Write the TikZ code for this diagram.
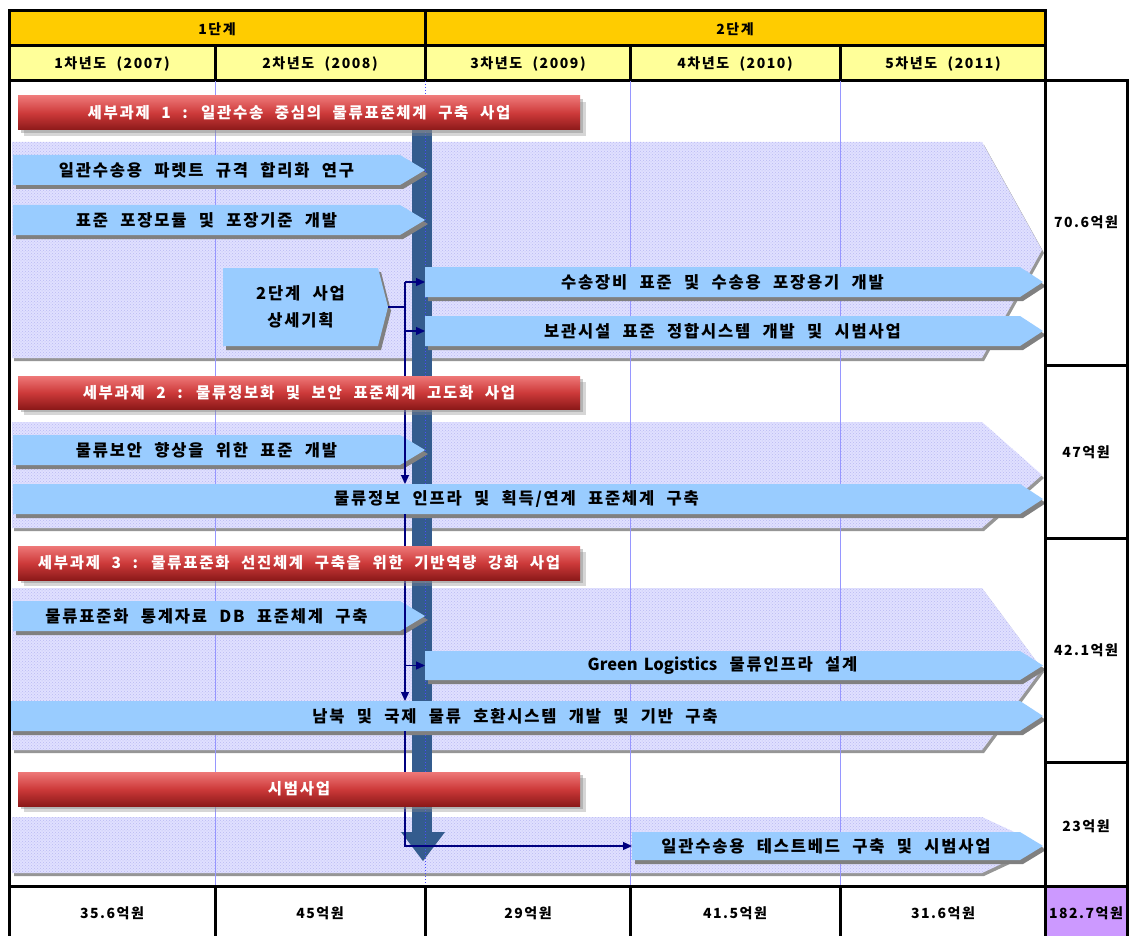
\documentclass[tikz,border=0pt]{standalone}
\usepackage{fontspec}
\setmainfont{Noto Sans CJK KR}[WordSpace=2.2,LetterSpace=11]
\newfontfamily\latinplain{Noto Sans CJK KR}[WordSpace=1.6]
\usetikzlibrary{patterns,arrows.meta}
\definecolor{hdrorange}{RGB}{255,204,0}
\definecolor{hdryellow}{RGB}{255,255,153}
\definecolor{lav}{RGB}{224,224,255}
\definecolor{lavdot}{RGB}{185,185,242}
\definecolor{bandshadow}{RGB}{150,150,150}
\definecolor{arrowblue}{RGB}{153,204,255}
\definecolor{arrowshadow}{RGB}{128,128,128}
\definecolor{barblue}{RGB}{52,92,142}
\definecolor{navyline}{RGB}{0,0,128}
\definecolor{gridblue}{RGB}{150,150,255}
\definecolor{purplecell}{RGB}{204,153,255}
\definecolor{redtop}{RGB}{238,120,120}
\definecolor{redmid}{RGB}{205,58,58}
\definecolor{redbot}{RGB}{140,25,25}
\tikzset{
  frame/.style={line width=3pt, black},
  atext/.style={font=\fontsize{16.5}{19}\selectfont\bfseries, text=black, inner sep=0pt, align=center},
  htext/.style={font=\fontsize{14}{17}\selectfont\bfseries, text=black, inner sep=0pt},
  rtext/.style={font=\fontsize{15.5}{18}\selectfont\bfseries, text=white, inner sep=0pt},
  nav/.style={navyline, line width=1.3pt},
  navarr/.style={nav, -{Triangle[length=9pt,width=8pt]}},
  gridline/.style={gridblue, line width=1pt},
}
% band: y1, y2, ymid
\newcommand\bandshape[3]{%
  \fill[bandshadow,shift={(2,3)}] (12,#1) -- (982,#1) -- (1042,#3) -- (982,#2) -- (12,#2) -- cycle;
  \fill[lav] (12,#1) -- (982,#1) -- (1042,#3) -- (982,#2) -- (12,#2) -- cycle;
  \fill[pattern=crosshatch dots, pattern color=lavdot] (12,#1) -- (982,#1) -- (1042,#3) -- (982,#2) -- (12,#2) -- cycle;
}
% blue arrow: name, x1, y1, xs, y2, xt, text
\newcommand\bluearrow[7]{%
  \pgfmathsetmacro\ymidval{(#3+#5)/2}
  \fill[arrowshadow,shift={(3,4)}] (#2,#3) -- (#4,#3) -- (#6,\ymidval) -- (#4,#5) -- (#2,#5) -- cycle;
  \fill[arrowblue] (#2,#3) -- (#4,#3) -- (#6,\ymidval) -- (#4,#5) -- (#2,#5) -- cycle;
  \node[atext] (#1) at ({(#2+#4)/2},\ymidval) {#7};
  \coordinate (#1w) at (#2,\ymidval);
  \coordinate (#1e) at (#6,\ymidval);
}
% red banner: name, y1, y2, text
\newcommand\redbanner[4]{%
  \fill[black!45, opacity=0.35, shift={(6,6)}] (18,#2) rectangle (580,#3);
  \fill[black!45, opacity=0.45, shift={(3,3)}] (18,#2) rectangle (580,#3);
  \shade[top color=redtop, bottom color=redbot, middle color=redmid] (18,#2) rectangle (580,#3);
  \node[rtext] (#1) at (299,{(#2+#3)/2}) {#4};
}
\begin{document}
\begin{tikzpicture}[x=1pt,y=-1pt]
\useasboundingbox (0,0) rectangle (1132,936);
\fill[white] (0,0) rectangle (1132,936);

% ---- header ----
\fill[hdrorange] (9,11) rectangle (1045,46);
\fill[hdryellow] (9,46) rectangle (1045,81);
\draw[frame] (9,11) rectangle (1045,81);
\draw[frame] (9,46) -- (1045,46);
\draw[frame] (425,11) -- (425,81);
\foreach \xx in {215,630,840} \draw[frame] (\xx,46) -- (\xx,81);
\node[htext] (st1) at (217,29) {1단계};
\node[htext] (st2) at (735,29) {2단계};
\node[htext] (y1) at (112,64) {1차년도 (2007)};
\node[htext] (y2) at (320,64) {2차년도 (2008)};
\node[htext] (y3) at (528,64) {3차년도 (2009)};
\node[htext] (y4) at (735,64) {4차년도 (2010)};
\node[htext] (y5) at (943,64) {5차년도 (2011)};

% ---- bands ----
\bandshape{142}{358}{250}
\bandshape{422}{528}{475}
\bandshape{588}{750}{669}
\bandshape{817}{873}{845}

% ---- grid lines ----
\foreach \xx in {215,630,840} \draw[gridline] (\xx,81) -- (\xx,886);

% ---- central bar ----
\fill[barblue] (412,120) rectangle (432,833);
\fill[barblue] (401,832) -- (445,832) -- (423,861) -- cycle;
\draw[blue!70, line width=1pt, dotted] (425,81) -- (425,886);

% ---- blue arrows ----
\bluearrow{a1}{13}{155}{400}{185}{425}{일관수송용 파렛트 규격 합리화 연구}
\bluearrow{a2}{13}{205}{400}{235}{425}{표준 포장모듈 및 포장기준 개발}
\bluearrow{plan}{223}{268}{378}{346}{388}{2단계 사업\\[8pt]상세기획}
\bluearrow{a4}{425}{267}{1020}{297}{1043}{수송장비 표준 및 수송용 포장용기 개발}
\bluearrow{a5}{425}{316}{1020}{346}{1043}{보관시설 표준 정합시스템 개발 및 시범사업}
\bluearrow{a6}{13}{435}{400}{465}{425}{물류보안 향상을 위한 표준 개발}
\bluearrow{a7}{13}{484}{1020}{514}{1043}{물류정보 인프라 및 획득/연계 표준체계 구축}
\bluearrow{a8}{13}{601}{400}{631}{425}{물류표준화 통계자료 DB 표준체계 구축}
\bluearrow{a9}{425}{651}{1020}{680}{1043}{{\latinplain\bfseries Green Logistics} 물류인프라 설계}
\bluearrow{a10}{10}{701}{1020}{731}{1043}{남북 및 국제 물류 호환시스템 개발 및 기반 구축}
\bluearrow{a11}{632}{832}{1020}{860}{1043}{일관수송용 테스트베드 구축 및 시범사업}

% ---- navy connectors ----
\coordinate (jplan) at (405,307);
\coordinate (j4) at (405,282);
\coordinate (j5) at (405,331);
\coordinate (j7) at (405,484);
\coordinate (j7b) at (405,514);
\coordinate (j9) at (405,665.5);
\coordinate (j10) at (405,701);
\coordinate (j10b) at (405,731);
\coordinate (j11) at (405,846);
\draw[nav] (plane) -- (jplan);
\draw[navarr] (j4) -- (j7);
\draw[navarr] (j7b) -- (j10);
\draw[navarr] (j10b) -- (j11) -- (a11w);
\draw[navarr] (j4) -- (a4w);
\draw[navarr] (j5) -- (a5w);
\draw[navarr] (j9) -- (a9w);

% ---- red banners ----
\redbanner{t1}{96}{130}{세부과제 1 : 일관수송 중심의 물류표준체계 구축 사업}
\redbanner{t2}{376}{409}{세부과제 2 : 물류정보화 및 보안 표준체계 고도화 사업}
\redbanner{t3}{546}{580}{세부과제 3 : 물류표준화 선진체계 구축을 위한 기반역량 강화 사업}
\redbanner{t4}{772}{806}{시범사업}

% ---- main frame / right column ----
\draw[frame] (9,11) -- (9,940);
\draw[frame] (1045,81) rectangle (1127,886);
\foreach \yy in {365,538,762} \draw[frame] (1045,\yy) -- (1127,\yy);
\node[htext] (c1) at (1086,222) {70.6억원};
\node[htext] (c2) at (1086,452) {47억원};
\node[htext] (c3) at (1086,650) {42.1억원};
\node[htext] (c4) at (1086,826) {23억원};

% ---- bottom row ----
\fill[purplecell] (1045,886) rectangle (1127,940);
\draw[frame] (9,886) -- (1127,886);
\foreach \xx in {215,425,630,840,1045,1127} \draw[frame] (\xx,886) -- (\xx,940);
\node[htext] (b1) at (112,913) {35.6억원};
\node[htext] (b2) at (320,913) {45억원};
\node[htext] (b3) at (528,913) {29억원};
\node[htext] (b4) at (735,913) {41.5억원};
\node[htext] (b5) at (943,913) {31.6억원};
\node[htext] (b6) at (1086,913) {182.7억원};
\end{tikzpicture}
\end{document}
